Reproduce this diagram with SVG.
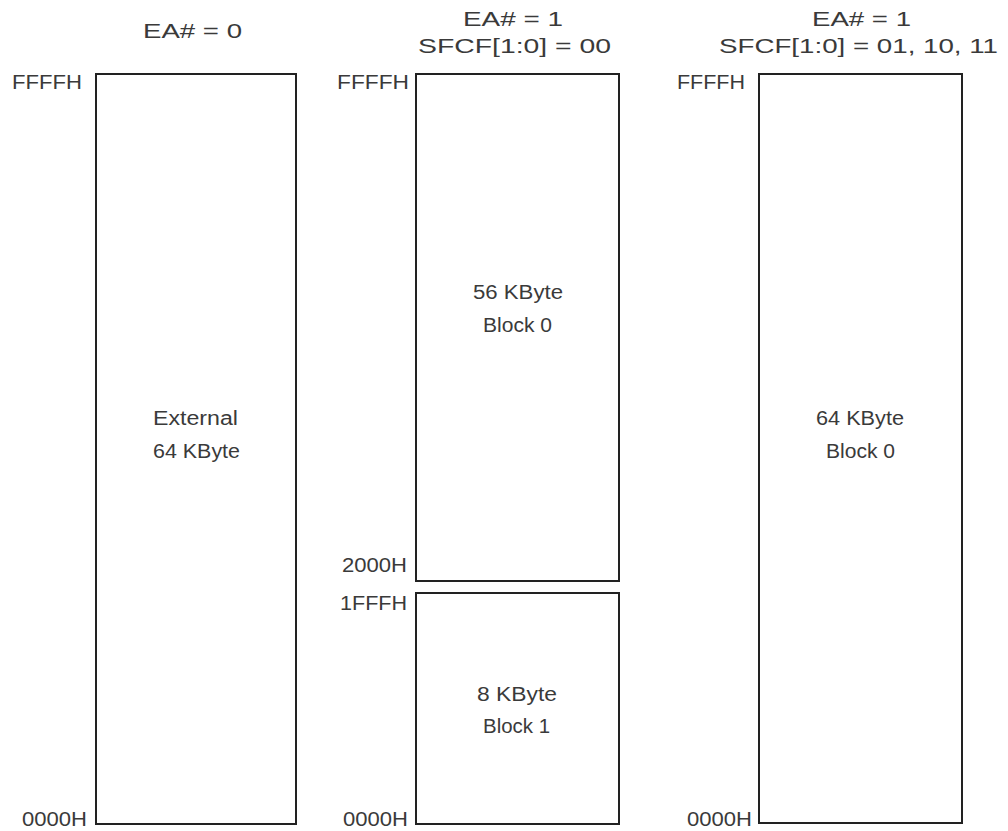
<svg xmlns="http://www.w3.org/2000/svg" width="1008" height="831" viewBox="0 0 1008 831">
<style>
text{font-family:"Liberation Sans",Arial,sans-serif;font-size:20px;fill:#3a3a3a;}
.box{fill:#fff;stroke:#222;stroke-width:2;}
</style>
<rect width="1008" height="831" fill="#fff"/>
<g id="headings">
<text x="143" y="38" textLength="99" lengthAdjust="spacingAndGlyphs">EA# = 0</text>
<text x="463" y="26" textLength="100" lengthAdjust="spacingAndGlyphs">EA# = 1</text>
<text x="418" y="53" textLength="193" lengthAdjust="spacingAndGlyphs">SFCF[1:0] = 00</text>
<text x="812" y="26" textLength="99" lengthAdjust="spacingAndGlyphs">EA# = 1</text>
<text x="719" y="53" textLength="279" lengthAdjust="spacingAndGlyphs">SFCF[1:0] = 01, 10, 11</text>
</g>
<g id="col1">
<rect class="box" x="96" y="74" width="200" height="750"/>
<text x="12" y="89" textLength="70" lengthAdjust="spacingAndGlyphs">FFFFH</text>
<text x="22" y="826" textLength="65" lengthAdjust="spacingAndGlyphs">0000H</text>
<text x="153" y="425" textLength="85" lengthAdjust="spacingAndGlyphs">External</text>
<text x="153" y="458" textLength="87" lengthAdjust="spacingAndGlyphs">64 KByte</text>
</g>
<g id="col2-block0">
<rect class="box" x="416" y="74" width="203" height="507"/>
<text x="337" y="89" textLength="72" lengthAdjust="spacingAndGlyphs">FFFFH</text>
<text x="342" y="572" textLength="65" lengthAdjust="spacingAndGlyphs">2000H</text>
<text x="473" y="299" textLength="90" lengthAdjust="spacingAndGlyphs">56 KByte</text>
<text x="483" y="332" textLength="69" lengthAdjust="spacingAndGlyphs">Block 0</text>
</g>
<g id="col2-block1">
<rect class="box" x="416" y="593" width="203" height="231"/>
<text x="340" y="610" textLength="67" lengthAdjust="spacingAndGlyphs">1FFFH</text>
<text x="343" y="826" textLength="65" lengthAdjust="spacingAndGlyphs">0000H</text>
<text x="477" y="701" textLength="80" lengthAdjust="spacingAndGlyphs">8 KByte</text>
<text x="483" y="733" textLength="67" lengthAdjust="spacingAndGlyphs">Block 1</text>
</g>
<g id="col3">
<rect class="box" x="759" y="74" width="203" height="749"/>
<text x="677" y="89" textLength="68" lengthAdjust="spacingAndGlyphs">FFFFH</text>
<text x="687" y="826" textLength="65" lengthAdjust="spacingAndGlyphs">0000H</text>
<text x="816" y="425" textLength="88" lengthAdjust="spacingAndGlyphs">64 KByte</text>
<text x="826" y="458" textLength="69" lengthAdjust="spacingAndGlyphs">Block 0</text>
</g>
<g id="connectors"></g>
</svg>
